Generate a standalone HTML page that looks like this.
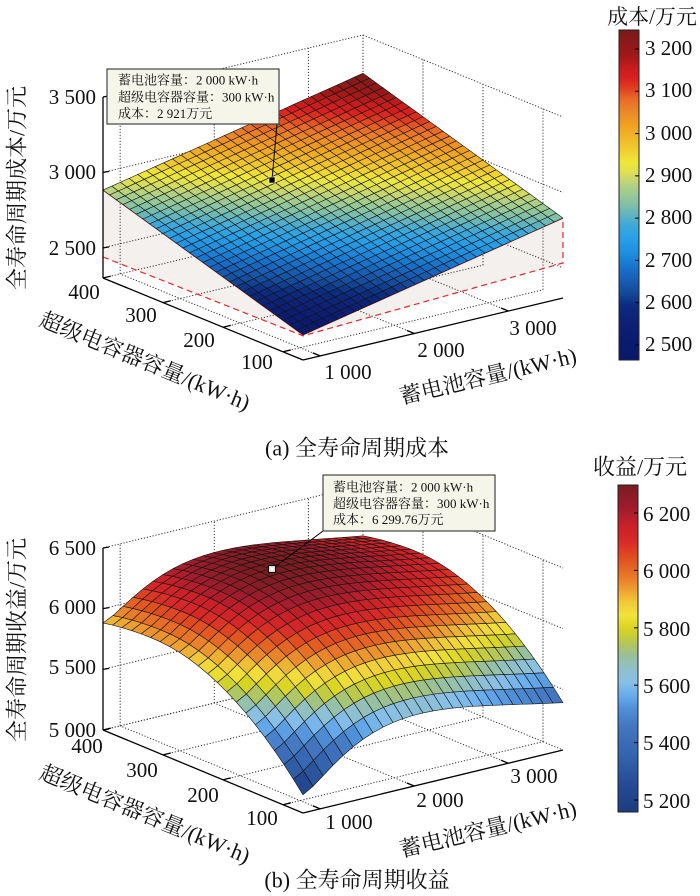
<!DOCTYPE html>
<html>
<head>
<meta charset="utf-8">
<style>
html,body{margin:0;padding:0;background:#fff;width:700px;height:896px;overflow:hidden;}
svg{display:block;}
text{font-family:"Liberation Serif","Noto Serif CJK SC",serif;fill:#111;}
</style>
</head>
<body>
<svg id="s" width="700" height="896" viewBox="0 0 700 896" xmlns="http://www.w3.org/2000/svg" font-family="'Liberation Serif','Noto Serif CJK SC',serif">
<defs>
<linearGradient id="gradA" x1="0" y1="1" x2="0" y2="0"></linearGradient>
<linearGradient id="gradB" x1="0" y1="1" x2="0" y2="0"></linearGradient>
</defs>
<rect x="0" y="0" width="700" height="896" fill="#fff"/>

<g id="curtainA"></g>
<g id="gridA" stroke="#333" stroke-width="1" stroke-dasharray="1.2,1.8" fill="none"></g>
<g id="redA"></g>
<g id="surfA" stroke="#141414" stroke-width="0.6" stroke-linejoin="round"></g>
<g id="axesA" stroke="#000" stroke-width="1.3" fill="none"></g>

<g id="gridB" stroke="#333" stroke-width="1" stroke-dasharray="1.2,1.8" fill="none"></g>
<g id="surfB" stroke="#141414" stroke-width="0.6" stroke-linejoin="round"></g>
<g id="axesB" stroke="#000" stroke-width="1.3" fill="none"></g>

<rect x="619" y="30" width="20" height="330" fill="url(#gradA)" stroke="#222" stroke-width="1"/>
<g id="cbtA" stroke="#000" stroke-width="1"></g>
<rect x="618" y="485" width="20" height="327" fill="url(#gradB)" stroke="#222" stroke-width="1"/>
<g id="cbtB" stroke="#000" stroke-width="1"></g>

<g font-size="21">
<text x="96" y="104" text-anchor="end">3 500</text>
<text x="96" y="179" text-anchor="end">3 000</text>
<text x="96" y="255" text-anchor="end">2 500</text>
<text x="84" y="299" text-anchor="middle">400</text>
<text x="141" y="322" text-anchor="middle">300</text>
<text x="199" y="347" text-anchor="middle">200</text>
<text x="257" y="369" text-anchor="middle">100</text>
<text x="348" y="379" text-anchor="middle">1 000</text>
<text x="441" y="357" text-anchor="middle">2 000</text>
<text x="533" y="335" text-anchor="middle">3 000</text>
<text x="645" y="55" >3 200</text>
<text x="645" y="97" >3 100</text>
<text x="645" y="140">3 000</text>
<text x="645" y="182">2 900</text>
<text x="645" y="224">2 800</text>
<text x="645" y="267">2 700</text>
<text x="645" y="309">2 600</text>
<text x="645" y="351">2 500</text>
</g>
<g font-size="22">
<text x="17" y="188" text-anchor="middle" dominant-baseline="central" transform="rotate(-90 17 188)">全寿命周期成本/万元</text>
<text x="145" y="361" text-anchor="middle" dominant-baseline="central" transform="rotate(22.3 145 361)">超级电容器容量/(kW·h)</text>
<text x="488" y="376" text-anchor="middle" dominant-baseline="central" transform="rotate(-13.4 488 376)">蓄电池容量/(kW·h)</text>
<text x="357" y="448" text-anchor="middle" dominant-baseline="central">(a) 全寿命周期成本</text>
<text x="652" y="17" text-anchor="middle" dominant-baseline="central" font-size="21">成本/万元</text>
</g>

<g font-size="21">
<text x="96" y="555" text-anchor="end">6 500</text>
<text x="96" y="614" text-anchor="end">6 000</text>
<text x="96" y="674" text-anchor="end">5 500</text>
<text x="96" y="737" text-anchor="end">5 000</text>
<text x="87" y="753" text-anchor="middle">400</text>
<text x="142" y="777" text-anchor="middle">300</text>
<text x="203" y="802" text-anchor="middle">200</text>
<text x="262" y="825" text-anchor="middle">100</text>
<text x="349" y="829" text-anchor="middle">1 000</text>
<text x="440" y="807" text-anchor="middle">2 000</text>
<text x="534" y="783" text-anchor="middle">3 000</text>
<text x="643" y="521">6 200</text>
<text x="643" y="578">6 000</text>
<text x="643" y="636">5 800</text>
<text x="643" y="693">5 600</text>
<text x="643" y="750">5 400</text>
<text x="643" y="808">5 200</text>
</g>
<g font-size="22">
<text x="17" y="640" text-anchor="middle" dominant-baseline="central" transform="rotate(-90 17 640)">全寿命周期收益/万元</text>
<text x="145" y="814" text-anchor="middle" dominant-baseline="central" transform="rotate(22.3 145 814)">超级电容器容量/(kW·h)</text>
<text x="488" y="829" text-anchor="middle" dominant-baseline="central" transform="rotate(-13.4 488 829)">蓄电池容量/(kW·h)</text>
<text x="357" y="880" text-anchor="middle" dominant-baseline="central">(b) 全寿命周期收益</text>
<text x="640" y="467" text-anchor="middle" dominant-baseline="central">收益/万元</text>
</g>

<line x1="277" y1="124" x2="272" y2="180" stroke="#000" stroke-width="1"/>
<rect x="269" y="177" width="6" height="6" fill="#000" stroke="#fff" stroke-width="0.6"/>
<rect x="107" y="69" width="172" height="55" fill="#f6f5e9" stroke="#444" stroke-width="1.2"/>
<g font-size="13">
<text x="118" y="84.5">蓄电池容量：2 000 kW·h</text>
<text x="118" y="101.5">超级电容器容量：300 kW·h</text>
<text x="118" y="118">成本：2 921万元</text>
</g>

<line x1="323" y1="531" x2="272" y2="569" stroke="#000" stroke-width="1"/>
<rect x="268.5" y="565.5" width="7" height="7" fill="#ddd" stroke="#000" stroke-width="1"/>
<rect x="270.5" y="567.5" width="3" height="3" fill="#fff"/>
<rect x="323" y="475" width="172" height="56" fill="#f6f5e9" stroke="#444" stroke-width="1.2"/>
<g font-size="13">
<text x="333" y="491.5">蓄电池容量：2 000 kW·h</text>
<text x="333" y="508">超级电容器容量：300 kW·h</text>
<text x="333" y="524">成本：6 299.76万元</text>
</g>
</svg>

<script>
(function(){
var NS='http://www.w3.org/2000/svg';
function el(parent,tag,attrs){var e=document.createElementNS(NS,tag);for(var k in attrs)e.setAttribute(k,attrs[k]);parent.appendChild(e);return e;}
function $(id){return document.getElementById(id);}
function hex2rgb(h){return [parseInt(h.substr(1,2),16),parseInt(h.substr(3,2),16),parseInt(h.substr(5,2),16)];}
function makeCmap(stops){
  var s=stops.map(function(a){return [a[0],hex2rgb(a[1])];});
  return function(t){
    t=Math.max(0,Math.min(1,t));
    for(var i=1;i<s.length;i++){
      if(t<=s[i][0]){
        var a=s[i-1],b=s[i],f=(t-a[0])/((b[0]-a[0])||1);
        return 'rgb('+a[1].map(function(c,j){return Math.round(c+(b[1][j]-c)*f);}).join(',')+')';
      }
    }
    return 'rgb('+s[s.length-1][1].join(',')+')';
  };
}
var stopsA=[[0,'#0a186a'],[0.066,'#0a1c70'],[0.126,'#0c2278'],[0.167,'#0c2c80'],[0.207,'#144c9c'],[0.247,'#1860b8'],[0.288,'#1878d0'],[0.328,'#2090e0'],[0.369,'#28a0e8'],[0.41,'#40a8d8'],[0.44,'#60b4c0'],[0.47,'#80c0a8'],[0.51,'#a0cc90'],[0.54,'#c0d478'],[0.571,'#e0e050'],[0.601,'#f0e838'],[0.631,'#f0d030'],[0.672,'#f0b828'],[0.712,'#f0a020'],[0.752,'#ec8828'],[0.793,'#e86828'],[0.823,'#e04020'],[0.854,'#d82020'],[0.884,'#c81c1c'],[0.924,'#a01818'],[1,'#7a1a1a']];
var stopsB=[[0,'#1c3c80'],[0.092,'#284c98'],[0.153,'#3060a8'],[0.214,'#3c6cb8'],[0.265,'#4478c0'],[0.316,'#5090d8'],[0.357,'#68acec'],[0.398,'#88c0e8'],[0.439,'#90c0c8'],[0.48,'#98c098'],[0.52,'#b8c850'],[0.56,'#d8d420'],[0.602,'#f2e23c'],[0.643,'#f0c838'],[0.68,'#eca030'],[0.72,'#e87828'],[0.775,'#e05020'],[0.83,'#d82828'],[0.88,'#c82028'],[0.93,'#a01c2c'],[1,'#7a1c20']];
var cmA=makeCmap(stopsA),cmB=makeCmap(stopsB);
function fillGrad(id,stops){var g=$(id);stops.forEach(function(s){el(g,'stop',{offset:s[0],'stop-color':s[1]});});}
fillGrad('gradA',stopsA);fillGrad('gradB',stopsB);

var PA={F:[303,360],R:[563,298],L:[103,278],H:181,z0:2300,z1:3500};
var PB={F:[303,813],R:[563,750],L:[103,730],H:182,z0:5000,z1:6500};
function Pw(p,u,v,w){return [p.F[0]+u*(p.R[0]-p.F[0])+v*(p.L[0]-p.F[0]), p.F[1]+u*(p.R[1]-p.F[1])+v*(p.L[1]-p.F[1])-w*p.H];}
function P(p,u,v,z){return Pw(p,u,v,(z-p.z0)/(p.z1-p.z0));}

function fA(u,v){return 2467+363*u+416*v;}
function sB(u){if(u<=0)return 0;var r=u/0.45;return Math.pow(r,1.4)*Math.exp(1.4*(1-r));}
function qB(v){if(v<=0.75){var a=1-v/0.75;return 775*(1-a*a);}var b=(v-0.75)/0.25;return 775-43*b*b;}
function fB(u,v){return 5150+(435-75*v)*sB(u)+qB(v);}

function drawSurf(g,p,f,nu,nv,cmap,cmin,cmax){
  var cells=[];
  for(var i=0;i<nu;i++)for(var j=0;j<nv;j++){
    var u0=i/nu,u1=(i+1)/nu,v0=j/nv,v1=(j+1)/nv;
    var z00=f(u0,v0),z10=f(u1,v0),z11=f(u1,v1),z01=f(u0,v1);
    var pts=[P(p,u0,v0,z00),P(p,u1,v0,z10),P(p,u1,v1,z11),P(p,u0,v1,z01)];
    var zc=(z00+z10+z11+z01)/4;
    var depth=(u0+u1)/2*(p.F[1]-p.R[1])+(v0+v1)/2*(p.F[1]-p.L[1]);
    cells.push({pts:pts,zc:zc,depth:depth});
  }
  cells.sort(function(a,b){return b.depth-a.depth;});
  cells.forEach(function(c){
    el(g,'polygon',{points:c.pts.map(function(q){return q[0].toFixed(2)+','+q[1].toFixed(2);}).join(' '),fill:cmap((c.zc-cmin)/(cmax-cmin))});
  });
}
function seg(g,p,a,b,attrs){var A=Pw(p,a[0],a[1],a[2]),B=Pw(p,b[0],b[1],b[2]);var o={x1:A[0].toFixed(2),y1:A[1].toFixed(2),x2:B[0].toFixed(2),y2:B[1].toFixed(2)};if(attrs)for(var k in attrs)o[k]=attrs[k];return el(g,'line',o);}
function grid(g,p,uT,vT,wT){
  uT.forEach(function(u){seg(g,p,[u,0,0],[u,1,0]);seg(g,p,[u,1,0],[u,1,1]);});
  vT.forEach(function(v){seg(g,p,[0,v,0],[1,v,0]);seg(g,p,[1,v,0],[1,v,1]);});
  wT.forEach(function(w){seg(g,p,[0,1,w],[1,1,w]);seg(g,p,[1,1,w],[1,0,w]);});
}
function axes(g,p,uT,vT,wT){
  seg(g,p,[0,1,0],[0,1,1]);
  seg(g,p,[0,1,0],[0,0,0]);
  seg(g,p,[0,0,0],[1,0,0]);
  var du=[p.R[0]-p.F[0],p.R[1]-p.F[1]],dv=[p.L[0]-p.F[0],p.L[1]-p.F[1]];
  var nu=Math.hypot(du[0],du[1]),nv=Math.hypot(dv[0],dv[1]);
  vT.forEach(function(v){var A=Pw(p,0,v,0);el(g,'line',{x1:A[0],y1:A[1],x2:A[0]+du[0]/nu*8,y2:A[1]+du[1]/nu*8});});
  uT.forEach(function(u){var A=Pw(p,u,0,0);el(g,'line',{x1:A[0],y1:A[1],x2:A[0]+dv[0]/nv*8,y2:A[1]+dv[1]/nv*8});});
  wT.forEach(function(w){var A=Pw(p,0,1,w);el(g,'line',{x1:A[0],y1:A[1],x2:A[0]+6,y2:A[1]-1});});
}

var uT=[0.066,0.428,0.790], vT=[0.1,0.4,0.7,1.0];

var wA=[(2500-2300)/1200,(3000-2300)/1200,1.0];
var Lt=P(PA,0,1,fA(0,1)),Ft=P(PA,0,0,fA(0,0)),Rt=P(PA,1,0,fA(1,0));
var Lb=[103,257],Fb=[Ft[0],Ft[1]+1],Rb=[Rt[0],263];
el($('curtainA'),'polygon',{points:[Lt,Ft,Rt,Rb,Fb,Lb].map(function(q){return q[0]+','+q[1];}).join(' '),fill:'#f4f0ed',stroke:'none'});
grid($('gridA'),PA,uT,vT,wA);
var rg=$('redA');
el(rg,'polyline',{points:[Lt,Ft,Rt].map(function(q){return q[0]+','+q[1];}).join(' '),fill:'none',stroke:'#e02a2a','stroke-width':1.2});
el(rg,'polyline',{points:[Lb,Fb,Rb,Rt].map(function(q){return q[0]+','+q[1];}).join(' '),fill:'none',stroke:'#e02a2a','stroke-width':1.2,'stroke-dasharray':'6,4'});
drawSurf($('surfA'),PA,fA,30,30,cmA,2465,3245);
axes($('axesA'),PA,uT,vT,wA);

var wB=[0,1/3,2/3,1.0];
grid($('gridB'),PB,uT,vT,wB);
drawSurf($('surfB'),PB,fB,26,21,cmB,5150,6300);
axes($('axesB'),PB,uT,vT,wB);

[3200,3100,3000,2900,2800,2700,2600,2500].forEach(function(v){var y=345-(v-2500)*0.4229;el($('cbtA'),'line',{x1:635,y1:y,x2:639,y2:y});});
[6200,6000,5800,5600,5400,5200].forEach(function(v){var y=800-(v-5200)*0.287;el($('cbtB'),'line',{x1:634,y1:y,x2:638,y2:y});});
})();
</script>
</body>
</html>
